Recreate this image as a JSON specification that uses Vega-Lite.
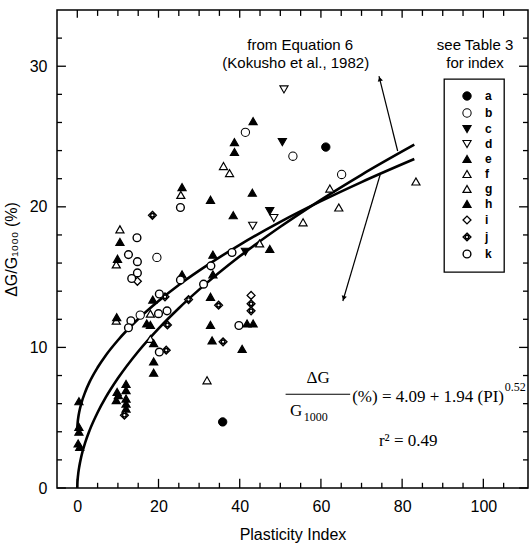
{
  "$schema": "https://vega.github.io/schema/vega-lite/v6.json",
  "width": 471,
  "height": 478,
  "autosize": {"type": "none"},
  "padding": {"left": 57, "top": 10, "right": 3, "bottom": 59},
  "background": "white",
  "config": {
    "view": {"stroke": "black", "strokeWidth": 1.5},
    "font": "Liberation Sans",
    "axis": {"domain": false, "grid": false, "labelColor": "black", "titleColor": "black", "labelFont": "Liberation Sans", "titleFont": "Liberation Sans", "labelFontSize": 16, "titleFontSize": 16, "titleFontWeight": "normal"},
    "legend": {"orient": "none", "legendX": 387, "legendY": 69, "strokeColor": "black", "strokeWidth": 1.3, "fillColor": "white", "padding": 11, "labelFont": "Liberation Sans", "labelFontSize": 12, "labelFontWeight": "bold", "labelColor": "black", "rowPadding": 3, "labelOffset": 12, "symbolOffset": 6}
  },
  "datasets": {
    "pts": [
      {"pi": 61.2, "dg": 24.25, "cat": "a"}, {"pi": 35.8, "dg": 4.7, "cat": "a"},
      {"pi": 41.4, "dg": 25.3, "cat": "b"}, {"pi": 53.1, "dg": 23.6, "cat": "b"}, {"pi": 65.1, "dg": 22.3, "cat": "b"}, {"pi": 19.6, "dg": 16.4, "cat": "b"}, {"pi": 15.5, "dg": 12.3, "cat": "b"},
      {"pi": 50.5, "dg": 24.6, "cat": "c"}, {"pi": 47.4, "dg": 19.7, "cat": "c"}, {"pi": 41.4, "dg": 16.8, "cat": "c"},
      {"pi": 50.9, "dg": 28.35, "cat": "d"}, {"pi": 48.4, "dg": 19.2, "cat": "d"}, {"pi": 43.2, "dg": 18.65, "cat": "d"},
      {"pi": 43.3, "dg": 26.1, "cat": "e"}, {"pi": 38.7, "dg": 24.6, "cat": "e"}, {"pi": 38.7, "dg": 23.9, "cat": "e"}, {"pi": 25.8, "dg": 21.4, "cat": "e"}, {"pi": 32.8, "dg": 20.5, "cat": "e"}, {"pi": 43.1, "dg": 21.0, "cat": "e"}, {"pi": 38.4, "dg": 19.4, "cat": "e"}, {"pi": 47.4, "dg": 17.0, "cat": "e"}, {"pi": 33.4, "dg": 16.6, "cat": "e"}, {"pi": 33.4, "dg": 15.2, "cat": "e"}, {"pi": 25.8, "dg": 15.2, "cat": "e"}, {"pi": 32.8, "dg": 13.6, "cat": "e"}, {"pi": 32.8, "dg": 11.6, "cat": "e"}, {"pi": 41.8, "dg": 11.7, "cat": "e"}, {"pi": 43.3, "dg": 11.7, "cat": "e"}, {"pi": 33.2, "dg": 10.5, "cat": "e"}, {"pi": 40.6, "dg": 9.9, "cat": "e"}, {"pi": 0.4, "dg": 6.17, "cat": "e"}, {"pi": 0.4, "dg": 4.35, "cat": "e"}, {"pi": 0.4, "dg": 4.0, "cat": "e"}, {"pi": 0.2, "dg": 3.17, "cat": "e"}, {"pi": 0.6, "dg": 2.93, "cat": "e"},
      {"pi": 36.0, "dg": 22.9, "cat": "f"}, {"pi": 37.5, "dg": 22.4, "cat": "f"}, {"pi": 83.4, "dg": 21.8, "cat": "f"}, {"pi": 62.2, "dg": 21.3, "cat": "f"}, {"pi": 64.4, "dg": 19.95, "cat": "f"}, {"pi": 55.6, "dg": 18.9, "cat": "f"}, {"pi": 44.9, "dg": 17.4, "cat": "f"}, {"pi": 31.95, "dg": 7.66, "cat": "f"},
      {"pi": 25.5, "dg": 20.85, "cat": "g"}, {"pi": 10.5, "dg": 18.4, "cat": "g"}, {"pi": 9.6, "dg": 15.9, "cat": "g"}, {"pi": 9.6, "dg": 11.9, "cat": "g"}, {"pi": 18.0, "dg": 12.4, "cat": "g"}, {"pi": 18.0, "dg": 10.6, "cat": "g"},
      {"pi": 10.5, "dg": 17.5, "cat": "h"}, {"pi": 9.9, "dg": 16.3, "cat": "h"}, {"pi": 18.6, "dg": 13.4, "cat": "h"}, {"pi": 9.7, "dg": 12.15, "cat": "h"}, {"pi": 17.1, "dg": 11.7, "cat": "h"}, {"pi": 18.0, "dg": 11.6, "cat": "h"}, {"pi": 18.8, "dg": 10.3, "cat": "h"}, {"pi": 18.8, "dg": 9.0, "cat": "h"}, {"pi": 18.8, "dg": 8.2, "cat": "h"}, {"pi": 12.0, "dg": 7.4, "cat": "h"}, {"pi": 12.0, "dg": 6.95, "cat": "h"}, {"pi": 9.8, "dg": 6.83, "cat": "h"}, {"pi": 10.1, "dg": 6.6, "cat": "h"}, {"pi": 12.0, "dg": 6.36, "cat": "h"}, {"pi": 9.6, "dg": 6.24, "cat": "h"}, {"pi": 12.0, "dg": 6.0, "cat": "h"}, {"pi": 12.0, "dg": 5.65, "cat": "h"},
      {"pi": 14.8, "dg": 14.7, "cat": "i"}, {"pi": 42.8, "dg": 13.7, "cat": "i"},
      {"pi": 18.5, "dg": 19.4, "cat": "j"}, {"pi": 27.4, "dg": 13.4, "cat": "j"}, {"pi": 22.2, "dg": 11.6, "cat": "j"}, {"pi": 34.8, "dg": 13.0, "cat": "j"}, {"pi": 42.8, "dg": 13.1, "cat": "j"}, {"pi": 42.8, "dg": 12.6, "cat": "j"}, {"pi": 35.9, "dg": 10.4, "cat": "j"}, {"pi": 21.9, "dg": 9.8, "cat": "j"}, {"pi": 11.6, "dg": 5.18, "cat": "j"}, {"pi": 21.6, "dg": 13.6, "cat": "j"},
      {"pi": 25.4, "dg": 19.95, "cat": "k"}, {"pi": 14.7, "dg": 17.8, "cat": "k"}, {"pi": 12.6, "dg": 16.6, "cat": "k"}, {"pi": 14.8, "dg": 16.1, "cat": "k"}, {"pi": 14.8, "dg": 15.3, "cat": "k"}, {"pi": 13.4, "dg": 14.9, "cat": "k"}, {"pi": 31.1, "dg": 14.5, "cat": "k"}, {"pi": 25.4, "dg": 14.8, "cat": "k"}, {"pi": 20.2, "dg": 13.8, "cat": "k"}, {"pi": 20.0, "dg": 12.4, "cat": "k"}, {"pi": 22.1, "dg": 12.6, "cat": "k"}, {"pi": 13.2, "dg": 11.9, "cat": "k"}, {"pi": 12.6, "dg": 11.4, "cat": "k"}, {"pi": 39.8, "dg": 11.56, "cat": "k"}, {"pi": 20.2, "dg": 9.67, "cat": "k"}, {"pi": 38.1, "dg": 16.75, "cat": "k"}, {"pi": 32.9, "dg": 15.8, "cat": "k"}
    ],
    "curves": [
      {"curve": "fit", "pi": 0, "dg": 4.09}, {"curve": "fit", "pi": 0.02, "dg": 4.34}, {"curve": "fit", "pi": 0.1, "dg": 4.68}, {"curve": "fit", "pi": 0.25, "dg": 5.03}, {"curve": "fit", "pi": 0.5, "dg": 5.44}, {"curve": "fit", "pi": 1, "dg": 6.03}, {"curve": "fit", "pi": 2, "dg": 6.87}, {"curve": "fit", "pi": 3, "dg": 7.53}, {"curve": "fit", "pi": 5, "dg": 8.57}, {"curve": "fit", "pi": 7, "dg": 9.43}, {"curve": "fit", "pi": 10, "dg": 10.51}, {"curve": "fit", "pi": 15, "dg": 12.02}, {"curve": "fit", "pi": 20, "dg": 13.30}, {"curve": "fit", "pi": 25, "dg": 14.44}, {"curve": "fit", "pi": 30, "dg": 15.46}, {"curve": "fit", "pi": 40, "dg": 17.30}, {"curve": "fit", "pi": 50, "dg": 18.93}, {"curve": "fit", "pi": 60, "dg": 20.40}, {"curve": "fit", "pi": 70, "dg": 21.76}, {"curve": "fit", "pi": 83, "dg": 23.40},
      {"curve": "kok", "pi": 0, "dg": 0}, {"curve": "kok", "pi": 0.02, "dg": 0.27}, {"curve": "kok", "pi": 0.1, "dg": 0.65}, {"curve": "kok", "pi": 0.25, "dg": 1.07}, {"curve": "kok", "pi": 0.5, "dg": 1.55}, {"curve": "kok", "pi": 1, "dg": 2.26}, {"curve": "kok", "pi": 2, "dg": 3.28}, {"curve": "kok", "pi": 3, "dg": 4.08}, {"curve": "kok", "pi": 5, "dg": 5.37}, {"curve": "kok", "pi": 7, "dg": 6.44}, {"curve": "kok", "pi": 10, "dg": 7.80}, {"curve": "kok", "pi": 15, "dg": 9.71}, {"curve": "kok", "pi": 20, "dg": 11.34}, {"curve": "kok", "pi": 25, "dg": 12.79}, {"curve": "kok", "pi": 30, "dg": 14.11}, {"curve": "kok", "pi": 40, "dg": 16.48}, {"curve": "kok", "pi": 50, "dg": 18.58}, {"curve": "kok", "pi": 60, "dg": 20.50}, {"curve": "kok", "pi": 70, "dg": 22.28}, {"curve": "kok", "pi": 83, "dg": 24.42}
    ],
    "xticks": [{"v": 0}, {"v": 5}, {"v": 10}, {"v": 15}, {"v": 20}, {"v": 25}, {"v": 30}, {"v": 35}, {"v": 40}, {"v": 45}, {"v": 50}, {"v": 55}, {"v": 60}, {"v": 65}, {"v": 70}, {"v": 75}, {"v": 80}, {"v": 85}, {"v": 90}, {"v": 95}, {"v": 100}, {"v": 105}],
    "yticks": [{"v": 0}, {"v": 2}, {"v": 4}, {"v": 6}, {"v": 8}, {"v": 10}, {"v": 12}, {"v": 14}, {"v": 16}, {"v": 18}, {"v": 20}, {"v": 22}, {"v": 24}, {"v": 26}, {"v": 28}, {"v": 30}, {"v": 32}],
    "arrows": [
      {"id": "up", "x": 78.9, "y": 23.97, "x2": 74.3, "y2": 29.3},
      {"id": "down", "x": 74.6, "y": 22.3, "x2": 65.4, "y2": 13.3}
    ],
    "heads": [
      {"id": "up", "x": 74.5, "y": 29.1},
      {"id": "down", "x": 65.6, "y": 13.5}
    ],
    "notes": [
      {"g": "sans", "x": 54.9, "y": 31.49, "t": "from Equation 6"},
      {"g": "sans", "x": 53.8, "y": 30.21, "t": "(Kokusho et al., 1982)"},
      {"g": "sans", "x": 97.95, "y": 31.49, "t": "see Table 3"},
      {"g": "sans", "x": 97.95, "y": 30.21, "t": "for index"},
      {"g": "serifc", "x": 59.3, "y": 7.8, "t": "ΔG"},
      {"g": "serifc", "x": 53.9, "y": 5.5, "t": "G"},
      {"g": "serifc", "x": 81.5, "y": 3.33, "t": "r² = 0.49"},
      {"g": "serifl", "x": 67.7, "y": 6.45, "t": "(%) = 4.09 + 1.94 (PI)"},
      {"g": "sup", "x": 105.3, "y": 7.2, "t": "0.52"},
      {"g": "sub", "x": 55.8, "y": 5.05, "t": "1000"}
    ],
    "bar": [
      {"x": 51.3, "x2": 67.2, "y": 6.67}
    ]
  },
  "layer": [
    {
      "data": {"name": "curves"},
      "mark": {"type": "line", "color": "black", "strokeWidth": 2.6, "interpolate": "monotone"},
      "encoding": {
        "x": {"field": "pi", "type": "quantitative", "scale": {"domain": [-5, 111], "nice": false, "zero": false},
          "axis": {"orient": "bottom", "values": [0,20,40,60,80,100], "ticks": false, "labelPadding": 10, "title": "Plasticity Index", "titlePadding": 12}},
        "y": {"field": "dg", "type": "quantitative", "scale": {"domain": [0, 34], "nice": false, "zero": false},
          "axis": {"orient": "left", "values": [0,10,20,30], "ticks": false, "labelPadding": 10, "title": "ΔG/G₁₀₀₀ (%)", "titlePadding": 10}},
        "detail": {"field": "curve", "type": "nominal"}
      }
    },
    {
      "data": {"name": "pts"},
      "mark": {"type": "point", "filled": true, "opacity": 1, "strokeOpacity": 1},
      "encoding": {
        "x": {"field": "pi", "type": "quantitative", "axis": null},
        "y": {"field": "dg", "type": "quantitative", "axis": null},
        "shape": {"field": "cat", "type": "nominal", "title": null,
          "scale": {"domain": ["a","b","c","d","e","f","g","h","i","j","k"],
            "range": ["circle","circle","triangle-down","triangle-down","triangle-up","triangle-up","triangle-up","triangle-up","diamond","M0,-1L1,0L0,1L-1,0Z M0.45,0A0.45,0.45,0,1,1,-0.45,0A0.45,0.45,0,1,1,0.45,0Z","circle"]}},
        "fill": {"field": "cat", "type": "nominal", "title": null,
          "scale": {"domain": ["a","b","c","d","e","f","g","h","i","j","k"],
            "range": ["black","white","black","white","black","white","white","black","white","white","white"]}},
        "stroke": {"field": "cat", "type": "nominal", "title": null,
          "scale": {"domain": ["a","b","c","d","e","f","g","h","i","j","k"],
            "range": ["black","black","black","black","black","black","black","black","black","black","black"]}},
        "strokeWidth": {"field": "cat", "type": "nominal", "title": null,
          "scale": {"domain": ["a","b","c","d","e","f","g","h","i","j","k"],
            "range": [1, 1.4, 1, 1.6, 1, 1.8, 2, 1, 2.6, 1.3, 2.8]}},
        "size": {"field": "cat", "type": "nominal", "title": null,
          "scale": {"domain": ["a","b","c","d","e","f","g","h","i","j","k"],
            "range": [70, 60, 60, 50, 64, 45, 45, 64, 38, 70, 28]}}
      }
    },
    {
      "data": {"name": "xticks"},
      "transform": [{"filter": "datum.v % 20 === 0"}],
      "mark": {"type": "rule", "color": "black", "strokeWidth": 1.3},
      "encoding": {"x": {"field": "v", "type": "quantitative", "axis": null}, "y": {"datum": 0, "type": "quantitative", "axis": null}, "y2": {"datum": 0.65}}
    },
    {
      "data": {"name": "xticks"},
      "transform": [{"filter": "datum.v % 20 === 0"}],
      "mark": {"type": "rule", "color": "black", "strokeWidth": 1.3},
      "encoding": {"x": {"field": "v", "type": "quantitative", "axis": null}, "y": {"datum": 34, "type": "quantitative", "axis": null}, "y2": {"datum": 33.45}}
    },
    {
      "data": {"name": "xticks"},
      "transform": [{"filter": "datum.v % 20 !== 0"}],
      "mark": {"type": "rule", "color": "black", "strokeWidth": 1.3},
      "encoding": {"x": {"field": "v", "type": "quantitative", "axis": null}, "y": {"datum": 0, "type": "quantitative", "axis": null}, "y2": {"datum": 0.37}}
    },
    {
      "data": {"name": "xticks"},
      "transform": [{"filter": "datum.v % 20 !== 0"}],
      "mark": {"type": "rule", "color": "black", "strokeWidth": 1.3},
      "encoding": {"x": {"field": "v", "type": "quantitative", "axis": null}, "y": {"datum": 34, "type": "quantitative", "axis": null}, "y2": {"datum": 33.58}}
    },
    {
      "data": {"name": "yticks"},
      "transform": [{"filter": "datum.v % 10 === 0"}],
      "mark": {"type": "rule", "color": "black", "strokeWidth": 1.3},
      "encoding": {"y": {"field": "v", "type": "quantitative", "axis": null}, "x": {"datum": -5, "type": "quantitative", "axis": null}, "x2": {"datum": -2.8}}
    },
    {
      "data": {"name": "yticks"},
      "transform": [{"filter": "datum.v % 10 === 0"}],
      "mark": {"type": "rule", "color": "black", "strokeWidth": 1.3},
      "encoding": {"y": {"field": "v", "type": "quantitative", "axis": null}, "x": {"datum": 111, "type": "quantitative", "axis": null}, "x2": {"datum": 108.8}}
    },
    {
      "data": {"name": "yticks"},
      "transform": [{"filter": "datum.v % 10 !== 0"}],
      "mark": {"type": "rule", "color": "black", "strokeWidth": 1.3},
      "encoding": {"y": {"field": "v", "type": "quantitative", "axis": null}, "x": {"datum": -5, "type": "quantitative", "axis": null}, "x2": {"datum": -3.77}}
    },
    {
      "data": {"name": "yticks"},
      "transform": [{"filter": "datum.v % 10 !== 0"}],
      "mark": {"type": "rule", "color": "black", "strokeWidth": 1.3},
      "encoding": {"y": {"field": "v", "type": "quantitative", "axis": null}, "x": {"datum": 111, "type": "quantitative", "axis": null}, "x2": {"datum": 109.77}}
    },
    {
      "data": {"name": "arrows"},
      "mark": {"type": "rule", "color": "black", "strokeWidth": 1.2},
      "encoding": {
        "x": {"field": "x", "type": "quantitative", "axis": null},
        "y": {"field": "y", "type": "quantitative", "axis": null},
        "x2": {"field": "x2"},
        "y2": {"field": "y2"}
      }
    },
    {
      "data": {"name": "heads"},
      "transform": [{"filter": "datum.id === 'up'"}],
      "mark": {"type": "point", "shape": "triangle-up", "filled": true, "color": "black", "size": 28, "angle": 346, "opacity": 1},
      "encoding": {
        "x": {"field": "x", "type": "quantitative", "axis": null},
        "y": {"field": "y", "type": "quantitative", "axis": null}
      }
    },
    {
      "data": {"name": "heads"},
      "transform": [{"filter": "datum.id === 'down'"}],
      "mark": {"type": "point", "shape": "triangle-up", "filled": true, "color": "black", "size": 28, "angle": 196, "opacity": 1},
      "encoding": {
        "x": {"field": "x", "type": "quantitative", "axis": null},
        "y": {"field": "y", "type": "quantitative", "axis": null}
      }
    },
    {
      "data": {"name": "notes"},
      "transform": [{"filter": "datum.g === 'sans'"}],
      "mark": {"type": "text", "font": "Liberation Sans", "fontSize": 15, "color": "black", "align": "center", "baseline": "middle"},
      "encoding": {
        "x": {"field": "x", "type": "quantitative", "axis": null},
        "y": {"field": "y", "type": "quantitative", "axis": null},
        "text": {"field": "t"}
      }
    },
    {
      "data": {"name": "notes"},
      "transform": [{"filter": "datum.g === 'serifc'"}],
      "mark": {"type": "text", "font": "Liberation Serif", "fontSize": 17, "color": "black", "align": "center", "baseline": "middle"},
      "encoding": {
        "x": {"field": "x", "type": "quantitative", "axis": null},
        "y": {"field": "y", "type": "quantitative", "axis": null},
        "text": {"field": "t"}
      }
    },
    {
      "data": {"name": "notes"},
      "transform": [{"filter": "datum.g === 'serifl'"}],
      "mark": {"type": "text", "font": "Liberation Serif", "fontSize": 17, "color": "black", "align": "left", "baseline": "middle"},
      "encoding": {
        "x": {"field": "x", "type": "quantitative", "axis": null},
        "y": {"field": "y", "type": "quantitative", "axis": null},
        "text": {"field": "t"}
      }
    },
    {
      "data": {"name": "notes"},
      "transform": [{"filter": "datum.g === 'sup' || datum.g === 'sub'"}],
      "mark": {"type": "text", "font": "Liberation Serif", "fontSize": 12, "color": "black", "align": "left", "baseline": "middle"},
      "encoding": {
        "x": {"field": "x", "type": "quantitative", "axis": null},
        "y": {"field": "y", "type": "quantitative", "axis": null},
        "text": {"field": "t"}
      }
    },
    {
      "data": {"name": "bar"},
      "mark": {"type": "rule", "color": "black", "strokeWidth": 1.2},
      "encoding": {
        "x": {"field": "x", "type": "quantitative", "axis": null},
        "x2": {"field": "x2"},
        "y": {"field": "y", "type": "quantitative", "axis": null}
      }
    }
  ],
  "resolve": {"axis": {"x": "independent", "y": "independent"}}
}
